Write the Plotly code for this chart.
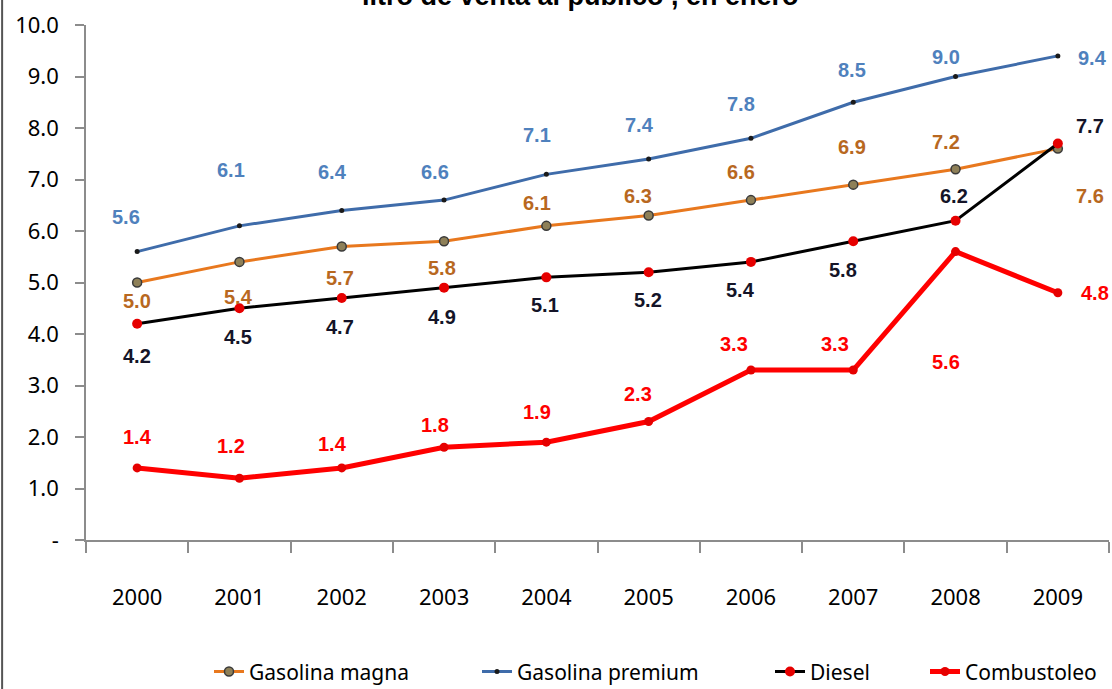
import plotly.graph_objects as go

years = ["2000", "2001", "2002", "2003", "2004", "2005", "2006", "2007", "2008", "2009"]
magna = [5.0, 5.4, 5.7, 5.8, 6.1, 6.3, 6.6, 6.9, 7.2, 7.6]
premium = [5.6, 6.1, 6.4, 6.6, 7.1, 7.4, 7.8, 8.5, 9.0, 9.4]
diesel = [4.2, 4.5, 4.7, 4.9, 5.1, 5.2, 5.4, 5.8, 6.2, 7.7]
combustoleo = [1.4, 1.2, 1.4, 1.8, 1.9, 2.3, 3.3, 3.3, 5.6, 4.8]

names = ["Gasolina magna", "Gasolina premium", "Diesel", "Combustoleo"]
title_text = "litro de venta al público , en enero"
y_ticks = [0, 1, 2, 3, 4, 5, 6, 7, 8, 9, 10]

# label placement offsets in pixels (dx, dy; dy positive = below the point)
off_premium = [(-11, -35), (-8, -56), (-9, -38), (-9, -28), (-9, -39), (-9, -34), (-10, -34), (-1, -32), (-10, -20), (35, 2)]
off_magna = [(0, 18), (-1, 35), (-2, 32), (-2, 27), (-9, -23), (-11, -20), (-10, -28), (-1, -38), (-10, -27), (32, 47)]
off_diesel = [(0, 32), (-1, 29), (-2, 29), (-2, 29), (-1, 28), (-1, 28), (-10, 28), (-10, 29), (-2, -25), (32, -17)]
off_comb = [(0, -31), (-8, -32), (-9, -24), (-9, -22), (-9, -30), (-11, -28), (-17, -26), (-18, -26), (-10, 110), (37, 0)]

FONT_TICK = "Noto Sans, Liberation Sans, sans-serif"
FONT_LBL = "Liberation Sans, Arial, sans-serif"

fig = go.Figure()

fig.add_trace(go.Scatter(
    x=years, y=magna, name=names[0], mode="lines+markers", legend="legend",
    line=dict(color="#E8781E", width=3),
    marker=dict(symbol="circle", size=9, color="#8E8058", line=dict(color="#3A3A3A", width=1.5)),
))
fig.add_trace(go.Scatter(
    x=years, y=premium, name=names[1], mode="lines+markers", legend="legend2",
    line=dict(color="#3F6CAA", width=3),
    marker=dict(symbol="circle", size=5, color="#1A1A1A"),
))
fig.add_trace(go.Scatter(
    x=years, y=diesel, name=names[2], mode="lines+markers", legend="legend3",
    line=dict(color="#000000", width=3),
    marker=dict(symbol="circle", size=10, color="#E60000"),
))
fig.add_trace(go.Scatter(
    x=years, y=combustoleo, name=names[3], mode="lines+markers", legend="legend4",
    line=dict(color="#FF0000", width=5),
    marker=dict(symbol="circle", size=9, color="#E60000"),
))

series_labels = [
    (premium, off_premium, "#4F81BD"),
    (magna, off_magna, "#B8681F"),
    (diesel, off_diesel, "#141428"),
    (combustoleo, off_comb, "#FF0000"),
]
for vals, offs, col in series_labels:
    for i, v in enumerate(vals):
        dx, dy = offs[i]
        fig.add_annotation(
            x=i, y=v, xref="x", yref="y", text=f"<b>{v:.1f}</b>",
            showarrow=False, xshift=dx, yshift=-dy,
            font=dict(family=FONT_LBL, size=20, color=col),
        )

fig.add_annotation(
    x=(580 - 86) / 1023, y=1.0, xref="paper", yref="paper", text=f"<b>{title_text}</b>",
    showarrow=False, xanchor="center", yanchor="bottom", yshift=12,
    font=dict(family=FONT_LBL, size=27, color="#000000"),
)

# left chart border
fig.add_shape(type="line", xref="paper", yref="paper", x0=-0.082, x1=-0.082, y0=-0.4, y1=1.1,
              line=dict(color="#555555", width=2))

fig.update_xaxes(
    type="category", range=[-0.5, 9.5], showline=True, linecolor="#8C8C8C", linewidth=1.5,
    ticks="outside", tickson="boundaries", ticklen=11, tickcolor="#8C8C8C", tickwidth=1.5,
    tickfont=dict(family=FONT_TICK, size=22, color="#000000"), ticklabelstandoff=37,
    showgrid=False, zeroline=False, automargin=False,
)
fig.update_yaxes(
    range=[0, 10], tickvals=y_ticks,
    ticktext=["-"] + [f"{t:.1f}" for t in y_ticks[1:]],
    showline=True, linecolor="#8C8C8C", linewidth=1.5,
    ticks="outside", ticklen=9, tickcolor="#8C8C8C", tickwidth=1.5,
    tickfont=dict(family=FONT_TICK, size=22, color="#000000"), ticklabelstandoff=12,
    showgrid=False, zeroline=False, automargin=False,
)

leg_common = dict(orientation="h", yanchor="middle", y=-0.256, xanchor="left",
                  font=dict(family=FONT_TICK, size=21, color="#000000"),
                  bgcolor="rgba(0,0,0,0)", borderwidth=0)
fig.update_layout(
    width=1112, height=689,
    margin=dict(l=86, r=3, t=25, b=149, autoexpand=False),
    paper_bgcolor="#FFFFFF", plot_bgcolor="#FFFFFF",
    showlegend=True,
    legend=dict(x=(209 - 86) / 1023, **leg_common),
    legend2=dict(x=(477 - 86) / 1023, **leg_common),
    legend3=dict(x=(770 - 86) / 1023, **leg_common),
    legend4=dict(x=(925 - 86) / 1023, **leg_common),
)

fig.write_html(
    "out.html",
    config={"displayModeBar": False},
    post_script="document.body.style.margin='0';document.body.style.overflow='hidden';",
)
